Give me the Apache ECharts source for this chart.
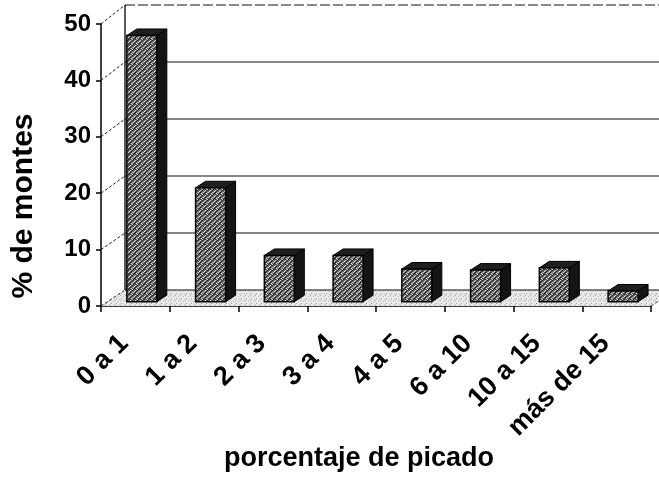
<!DOCTYPE html>
<html><head><meta charset="utf-8">
<script src="https://cdn.jsdelivr.net/npm/echarts@6/dist/echarts.min.js"></script>
<style>html,body{margin:0;padding:0;background:#fff}#c{width:659px;height:482px}</style>
</head><body><div id="c"></div>
<script>
// ---- data ----
const categories = ['0 a 1', '1 a 2', '2 a 3', '3 a 4', '4 a 5', '6 a 10', '10 a 15', 'más de 15'];
const values = [47.2, 20.2, 8.2, 8.2, 5.8, 5.6, 6.0, 1.9];
const yTicks = [0, 10, 20, 30, 40, 50];
const yName = '% de montes';
const xName = 'porcentaje de picado';

// ---- style ----
const FONT = '"Liberation Sans", Arial, sans-serif';
const WALL_DX = 24, WALL_DY = -16, WALL_K = 1.0106;
const FACE_OFF = -0.124, FACE_W = 0.436, SHIFT_DY = -4.3, BAR_DX = 10, BAR_DY = -6.5;

function makePattern(size, base, dots) {
  const cv = document.createElement('canvas');
  cv.width = size; cv.height = size;
  const g = cv.getContext('2d');
  g.fillStyle = base; g.fillRect(0, 0, size, size);
  dots.forEach(d => { g.fillStyle = d[2]; g.fillRect(d[0], d[1], 1, 1); });
  return { image: cv, repeat: 'repeat' };
}
const facePattern = makePattern(5, '#626262', [
  [0,0,'#ddd'],[2,0,'#222'],[4,1,'#eee'],[1,1,'#333'],[3,2,'#ccc'],[0,2,'#111'],
  [1,3,'#e5e5e5'],[4,3,'#222'],[2,4,'#ddd'],[0,4,'#333'],[3,4,'#1a1a1a'],[2,2,'#999']
]);
const floorPattern = makePattern(5, '#e8e8e8', [
  [0,0,'#aaa'],[3,1,'#bbb'],[1,3,'#999'],[4,4,'#c0c0c0'],[2,2,'#fff']
]);

const chart = echarts.init(document.getElementById('c'), null, {renderer: 'canvas'});

function wallItem(params, api) {
  const v = api.value(1);
  const p = api.coord([0, v]);
  const base = api.coord([0, 0]);
  const band = api.size([1, 0])[0];
  const left = p[0] - band / 2;
  const right = left + band * categories.length;
  const by = base[1] + WALL_DY + (p[1] - base[1]) * WALL_K;
  const children = [];
  const isTop = params.dataIndex === yTicks.length - 1;
  const isBottom = params.dataIndex === 0;
  if (isBottom) {
    children.push({ type: 'polygon', shape: { points: [[left, base[1]], [right, base[1]], [right + WALL_DX, base[1] + WALL_DY], [left + WALL_DX, base[1] + WALL_DY]] },
      style: { fill: floorPattern, stroke: null } });
    children.push({ type: 'line', shape: { x1: right, y1: base[1], x2: right + WALL_DX, y2: base[1] + WALL_DY },
      style: { stroke: '#333', lineWidth: 1, lineDash: [3, 2] } });
  }
  children.push({ type: 'line', shape: { x1: left + WALL_DX, y1: by, x2: right + WALL_DX, y2: by },
    style: { stroke: '#111', lineWidth: 1.2, lineDash: isTop ? [10, 3] : null } });
  children.push({ type: 'line', shape: { x1: left, y1: p[1], x2: left + WALL_DX, y2: by },
    style: { stroke: '#222', lineWidth: 1, lineDash: [3, 2] } });
  if (isTop) {
    const by0 = base[1] + WALL_DY;
    children.push({ type: 'line', shape: { x1: left + WALL_DX, y1: by, x2: left + WALL_DX, y2: by0 },
      style: { stroke: '#000', lineWidth: 1.3 } });
  }
  return { type: 'group', children };
}

function barItem(params, api) {
  const i = api.value(0), v = api.value(1);
  const top = api.coord([i, v]);
  const base = api.coord([i, 0]);
  const band = api.size([1, 0])[0];
  const x0 = top[0] + FACE_OFF * band;
  const w = FACE_W * band;
  const yt = top[1] + SHIFT_DY, yb = base[1] + SHIFT_DY;
  return { type: 'group', children: [
    { type: 'polygon', shape: { points: [[x0 + w, yt], [x0 + w + BAR_DX, yt + BAR_DY], [x0 + w + BAR_DX, yb + BAR_DY], [x0 + w, yb]] },
      style: { fill: '#141414', stroke: '#000', lineWidth: 1 } },
    { type: 'polygon', shape: { points: [[x0, yt], [x0 + w, yt], [x0 + w + BAR_DX, yt + BAR_DY], [x0 + BAR_DX, yt + BAR_DY]] },
      style: { fill: '#1e1e1e', stroke: '#000', lineWidth: 1 } },
    { type: 'rect', shape: { x: x0, y: yt, width: w, height: yb - yt },
      style: { fill: facePattern, stroke: '#000', lineWidth: 1.5 } }
  ]};
}

chart.setOption({
  animation: false,
  backgroundColor: '#fff',
  grid: { left: 101, right: 8, top: 24, bottom: 176 },
  xAxis: {
    type: 'category', data: categories, boundaryGap: true,
    axisLine: { lineStyle: { color: '#000', width: 1.5 } },
    axisTick: { show: true, length: 6, lineStyle: { color: '#000', width: 1.5 } },
    axisLabel: { interval: 0, rotate: 45, margin: 22, padding: [0, 16, 0, 0], color: '#000', fontFamily: FONT, fontWeight: 'bold', fontSize: 27 },
    splitLine: { show: false }
  },
  yAxis: {
    type: 'value', min: 0, max: 50, interval: 10,
    axisLine: { show: true, lineStyle: { color: '#000', width: 1.5 } },
    axisTick: { show: true, length: 5, lineStyle: { color: '#000', width: 1.5 } },
    axisLabel: { margin: 10, color: '#000', fontFamily: FONT, fontWeight: 'bold', fontSize: 24 },
    splitLine: { show: false }
  },
  graphic: [
    { type: 'text', x: 24, y: 206, rotation: Math.PI / 2,
      style: { text: yName, font: 'bold 30px ' + FONT, fill: '#000', textAlign: 'center', textVerticalAlign: 'middle' } },
    { type: 'text', x: 359, y: 459,
      style: { text: xName, font: 'bold 27px ' + FONT, fill: '#000', textAlign: 'center', textVerticalAlign: 'middle' } }
  ],
  series: [
    { type: 'custom', z: 1, clip: false, renderItem: wallItem, data: yTicks.map(t => [0, t]) },
    { type: 'custom', z: 3, clip: false, renderItem: barItem, data: values.map((v, i) => [i, v]) }
  ]
});
</script>
</body></html>
